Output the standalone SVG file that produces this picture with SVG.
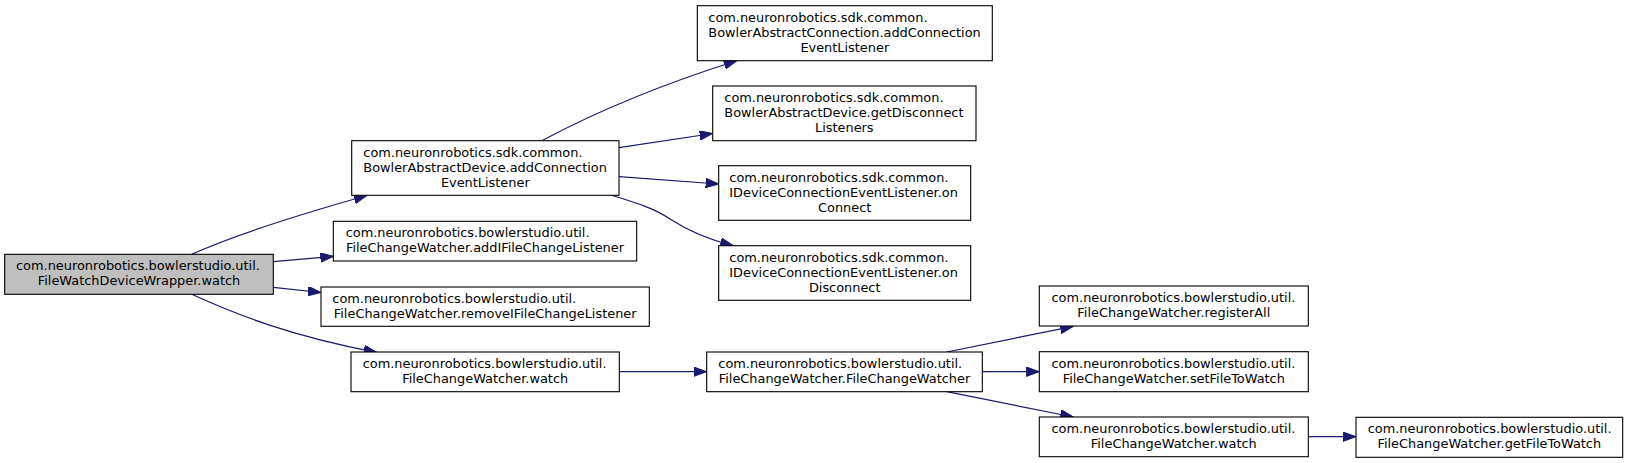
<svg xmlns="http://www.w3.org/2000/svg" width="1629" height="463" viewBox="0 0 1629 463">
<defs>
<marker id="arr" markerUnits="userSpaceOnUse" markerWidth="14" markerHeight="10" refX="13" refY="4.7" orient="auto" viewBox="0 0 14 10">
<path d="M0,0 L13,4.7 L0,9.4 z" fill="#191970" stroke="#191970" stroke-width="1"/>
</marker>
<style>
.n rect{fill:#ffffff;stroke:#000000;stroke-width:1.1}
.root rect{fill:#bfbfbf}
text{font-family:"DejaVu Sans","Liberation Sans",sans-serif;font-size:12.9px;fill:#000000}
.m{text-anchor:middle}
.e path{fill:none;stroke:#191970;stroke-width:1.2;marker-end:url(#arr)}
</style>
</defs>
<rect width="1629" height="463" fill="#ffffff"/>
<g id="connectors" class="e">
<path d="M191.7,254.3 C230,237 280,220 367,195.5"/>
<path d="M273.3,261.7 L333.3,256.3"/>
<path d="M273.3,287.3 L321,292.5"/>
<path d="M191.7,294.3 C235,314 290,336 376.7,352.3"/>
<path d="M541.7,140.7 C590,115 650,88 736.7,60.7"/>
<path d="M619,147.7 L712.7,133.5"/>
<path d="M619,176.7 L718.7,184"/>
<path d="M611.7,195.3 C640,204 655,209 670,219 C690,232 710,240 733.3,245.7"/>
<path d="M619.3,371.7 L706.7,371.7"/>
<path d="M946.7,352 L1073.3,326.3"/>
<path d="M982.3,371.7 L1039.3,371.7"/>
<path d="M946.7,391.7 L1073.3,417"/>
<path d="M1308.3,436.7 L1356,436.7"/>
</g>
<g id="node_A" class="n root">
<rect x="4.7" y="254.3" width="268.6" height="40"/>
<text x="16" y="270.2">com.neuronrobotics.bowlerstudio.util.</text>
<text class="m" x="139" y="285">FileWatchDeviceWrapper.watch</text>
</g>
<g id="node_B" class="n">
<rect x="351.7" y="140.7" width="267.3" height="54.6"/>
<text x="363.3" y="156.7">com.neuronrobotics.sdk.common.</text>
<text x="363.3" y="171.7">BowlerAbstractDevice.addConnection</text>
<text class="m" x="485.3" y="186.5">EventListener</text>
</g>
<g id="node_C" class="n">
<rect x="333.3" y="221.3" width="303.4" height="39.7"/>
<text x="345.7" y="237">com.neuronrobotics.bowlerstudio.util.</text>
<text class="m" x="485" y="251.8">FileChangeWatcher.addIFileChangeListener</text>
</g>
<g id="node_D" class="n">
<rect x="321" y="287" width="328.3" height="39.3"/>
<text x="332.3" y="302.7">com.neuronrobotics.bowlerstudio.util.</text>
<text class="m" x="485.2" y="317.5">FileChangeWatcher.removeIFileChangeListener</text>
</g>
<g id="node_E" class="n">
<rect x="351" y="352" width="268.3" height="39.7"/>
<text x="362.7" y="367.7">com.neuronrobotics.bowlerstudio.util.</text>
<text class="m" x="485.2" y="382.5">FileChangeWatcher.watch</text>
</g>
<g id="node_F" class="n">
<rect x="697.3" y="5.7" width="295" height="55"/>
<text x="708.3" y="21.7">com.neuronrobotics.sdk.common.</text>
<text x="708.3" y="36.7">BowlerAbstractConnection.addConnection</text>
<text class="m" x="844.8" y="51.5">EventListener</text>
</g>
<g id="node_G" class="n">
<rect x="712.7" y="86" width="263.3" height="54.7"/>
<text x="724.3" y="101.7">com.neuronrobotics.sdk.common.</text>
<text x="724.3" y="116.7">BowlerAbstractDevice.getDisconnect</text>
<text class="m" x="844.3" y="131.5">Listeners</text>
</g>
<g id="node_H" class="n">
<rect x="718.7" y="165.7" width="252" height="54.6"/>
<text x="729.3" y="181.7">com.neuronrobotics.sdk.common.</text>
<text x="729.3" y="196.7">IDeviceConnectionEventListener.on</text>
<text class="m" x="844.7" y="211.5">Connect</text>
</g>
<g id="node_I" class="n">
<rect x="718.7" y="245.7" width="252" height="54.6"/>
<text x="729.3" y="261.7">com.neuronrobotics.sdk.common.</text>
<text x="729.3" y="276.7">IDeviceConnectionEventListener.on</text>
<text class="m" x="844.7" y="291.5">Disconnect</text>
</g>
<g id="node_J" class="n">
<rect x="706.7" y="352" width="275.6" height="39.7"/>
<text x="718.3" y="367.7">com.neuronrobotics.bowlerstudio.util.</text>
<text class="m" x="844.5" y="382.5">FileChangeWatcher.FileChangeWatcher</text>
</g>
<g id="node_K" class="n">
<rect x="1039.3" y="286" width="269" height="40"/>
<text x="1051.5" y="302">com.neuronrobotics.bowlerstudio.util.</text>
<text class="m" x="1173.8" y="316.8">FileChangeWatcher.registerAll</text>
</g>
<g id="node_L" class="n">
<rect x="1039.3" y="351.7" width="269" height="40"/>
<text x="1051.5" y="367.7">com.neuronrobotics.bowlerstudio.util.</text>
<text class="m" x="1173.8" y="382.5">FileChangeWatcher.setFileToWatch</text>
</g>
<g id="node_M" class="n">
<rect x="1039.3" y="417" width="269" height="39.7"/>
<text x="1051.5" y="432.7">com.neuronrobotics.bowlerstudio.util.</text>
<text class="m" x="1173.8" y="447.5">FileChangeWatcher.watch</text>
</g>
<g id="node_N" class="n">
<rect x="1356" y="417.3" width="266.7" height="40"/>
<text x="1367.7" y="433.3">com.neuronrobotics.bowlerstudio.util.</text>
<text class="m" x="1489.3" y="448.2">FileChangeWatcher.getFileToWatch</text>
</g>
</svg>
